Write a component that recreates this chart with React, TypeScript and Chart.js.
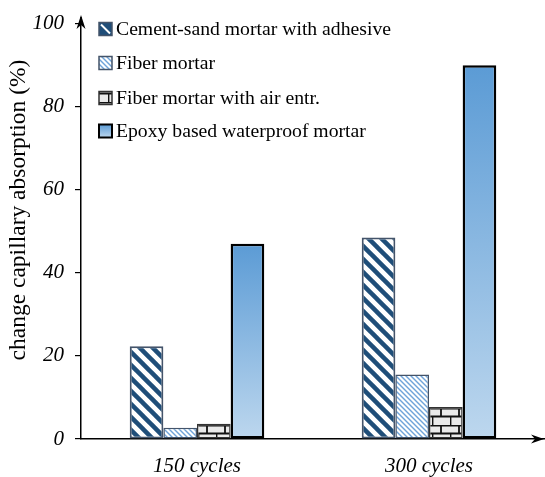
import React, { useEffect, useRef } from "react";
import { Chart, registerables } from "chart.js";

Chart.register(...registerables);

const categories = ["150 cycles", "300 cycles"];
const seriesNames = [
  "Cement-sand mortar with adhesive",
  "Fiber mortar",
  "Fiber mortar with air entr.",
  "Epoxy based waterproof mortar",
];
const cementSand = [22.3, 48.5];
const fiberMortar = [2.7, 15.5];
const fiberAir = [3.7, 7.7];
const epoxy = [47, 90];
const yMin = 0;
const yMax = 100;
const yStep = 20;
const yTitle = "change capillary absorption (%)";

const SERIF = '"Liberation Serif", "Times New Roman", serif';

function makeStripePattern(period: number, width: number, color: string, bg: string) {
  const c = document.createElement("canvas");
  c.width = period;
  c.height = period;
  const g = c.getContext("2d")!;
  g.fillStyle = bg;
  g.fillRect(0, 0, period, period);
  g.strokeStyle = color;
  g.lineWidth = width;
  for (let k = -2; k <= 2; k++) {
    g.beginPath();
    g.moveTo(-period, -period + k * period);
    g.lineTo(2 * period, 2 * period + k * period);
    g.stroke();
  }
  return g.createPattern(c, "repeat")!;
}

function makeBrickPattern() {
  const w = 18;
  const h = 17;
  const c = document.createElement("canvas");
  c.width = w;
  c.height = h;
  const g = c.getContext("2d")!;
  g.fillStyle = "#EAEAEA";
  g.fillRect(0, 0, w, h);
  g.strokeStyle = "#111";
  g.lineWidth = 1.8;
  const rh = h / 2;
  g.beginPath();
  g.moveTo(0, 0.5);
  g.lineTo(w, 0.5);
  g.moveTo(0, rh);
  g.lineTo(w, rh);
  g.moveTo(w / 2, 0);
  g.lineTo(w / 2, rh);
  g.moveTo(0.5, rh);
  g.lineTo(0.5, h);
  g.stroke();
  return g.createPattern(c, "repeat")!;
}

function epoxyGradient(ctx: CanvasRenderingContext2D, yTop: number, yBot: number) {
  const gr = ctx.createLinearGradient(0, yTop, 0, yBot);
  gr.addColorStop(0, "#5B9BD5");
  gr.addColorStop(1, "#BDD7EE");
  return gr;
}

export default function App() {
  const ref = useRef<HTMLCanvasElement | null>(null);

  useEffect(() => {
    const canvas = ref.current!;
    const ctx0 = canvas.getContext("2d")!;
    const cementPat = makeStripePattern(13, 4.5, "#1F4E79", "#FFFFFF");
    const fiberPat = makeStripePattern(5, 1.4, "#6FA3D9", "#FFFFFF");
    const brickPat = makeBrickPattern();

    const fills: any[] = [cementPat, fiberPat, brickPat, null];
    const borders = ["#44546A", "#44546A", "#333333", "#000000"];
    const borderWidths = [2, 1.5, 1.5, 2.5];

    const overlay = {
      id: "overlay",
      afterDraw(chart: any) {
        const ctx = chart.ctx as CanvasRenderingContext2D;
        const area = chart.chartArea;
        ctx.save();
        ctx.fillStyle = "#000";
        const ax = area.left;
        ctx.strokeStyle = "#000";
        ctx.lineWidth = 1.5;
        ctx.beginPath();
        ctx.moveTo(ax, area.top);
        ctx.lineTo(ax, 17);
        ctx.stroke();
        ctx.beginPath();
        ctx.moveTo(ax, 15);
        ctx.lineTo(ax - 4.5, 29);
        ctx.lineTo(ax, 25);
        ctx.lineTo(ax + 4.5, 29);
        ctx.closePath();
        ctx.fill();
        const by = area.bottom;
        ctx.beginPath();
        ctx.moveTo(544, by);
        ctx.lineTo(531, by - 4.5);
        ctx.lineTo(535, by);
        ctx.lineTo(531, by + 4.5);
        ctx.closePath();
        ctx.fill();

        // y title
        ctx.save();
        ctx.translate(19, 210);
        ctx.rotate(-Math.PI / 2);
        ctx.font = `23.5px ${SERIF}`;
        ctx.fillStyle = "#000";
        ctx.textAlign = "center";
        ctx.textBaseline = "middle";
        ctx.fillText(yTitle, 0, 0);
        ctx.restore();

        // legend
        const rows = [29, 63, 98, 131];
        ctx.font = `19.7px ${SERIF}`;
        ctx.textBaseline = "middle";
        ctx.textAlign = "left";
        seriesNames.forEach((name, i) => {
          const cy = rows[i];
          const x0 = 99;
          const s = 13;
          const y0 = cy - s / 2;
          if (i === 3) {
            ctx.fillStyle = epoxyGradient(ctx, y0, y0 + s);
          } else if (i === 0) {
            ctx.fillStyle = "#1F4E79";
          } else {
            ctx.fillStyle = fills[i];
          }
          ctx.fillRect(x0, y0, s, s);
          if (i === 0) {
            ctx.strokeStyle = "#FFFFFF";
            ctx.lineWidth = 2;
            ctx.beginPath();
            ctx.moveTo(x0 + 2, y0 + 2);
            ctx.lineTo(x0 + s - 2, y0 + s - 2);
            ctx.stroke();
          }
          ctx.strokeStyle = borders[i];
          ctx.lineWidth = i === 3 ? 2 : 1.5;
          ctx.strokeRect(x0, y0, s, s);
          ctx.fillStyle = "#000";
          ctx.fillText(name, 116, cy + 1);
        });
        ctx.restore();
      },
    };

    const seriesData = [cementSand, fiberMortar, fiberAir, epoxy];

    const chart = new Chart(ctx0, {
      type: "bar",
      data: {
        labels: categories,
        datasets: seriesData.map((d, i) => ({
          label: seriesNames[i],
          data: d,
          backgroundColor:
            i === 3
              ? (c: any) => {
                  const ch = c.chart;
                  if (!ch.chartArea || c.type !== "data") return "#7FB0E0";
                  const yTop = ch.scales.y.getPixelForValue(c.raw);
                  const yBot = ch.scales.y.getPixelForValue(0);
                  return epoxyGradient(ch.ctx, yTop, yBot);
                }
              : fills[i],
          borderColor: borders[i],
          borderWidth: borderWidths[i],
          borderSkipped: false,
          barPercentage: 1,
          categoryPercentage: 0.58,
        })),
      },
      options: {
        animation: false,
        responsive: false,
        events: [],
        layout: { padding: { top: 20, left: 0, right: 0, bottom: 0 } },
        plugins: {
          legend: { display: false },
          tooltip: { enabled: false },
          title: { display: false },
        },
        scales: {
          x: {
            type: "category",
            grid: { display: false, drawTicks: false },
            border: { display: true, color: "#000", width: 1.5 },
            ticks: {
              color: "#000",
              font: { family: SERIF, size: 21, style: "italic" },
              padding: 15,
            },
            afterFit: (s: any) => {
              s.height = 38;
            },
          },
          y: {
            min: yMin,
            max: yMax,
            grid: {
              drawOnChartArea: false,
              drawTicks: true,
              tickLength: 6,
              color: "#000",
              lineWidth: 1.2,
            },
            border: { display: true, color: "#000", width: 1.5 },
            ticks: {
              stepSize: yStep,
              color: "#000",
              padding: 11,
              font: { family: SERIF, size: 21, style: "italic" },
            },
            afterFit: (s: any) => {
              s.width = 81;
            },
          },
        },
      },
      plugins: [overlay],
    } as any);

    return () => chart.destroy();
  }, []);

  return (
    <canvas
      ref={ref}
      width={545}
      height={477}
      style={{ position: "absolute", left: 0, top: 0, width: 545, height: 477 }}
    />
  );
}
